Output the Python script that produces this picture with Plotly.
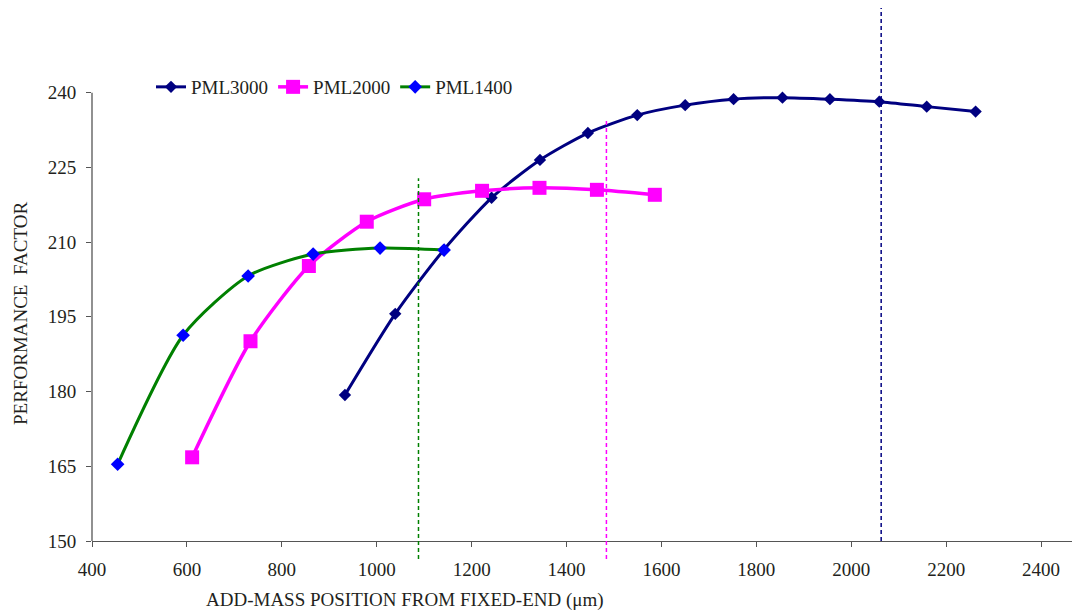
import plotly.graph_objects as go

# ---- data ----
pml3000_x = [933, 1039, 1141, 1242, 1344, 1445, 1549, 1650, 1752, 1855, 1955, 2059, 2159, 2262]
pml3000_y = [179.3, 195.6, 208.4, 218.9, 226.5, 231.9, 235.5, 237.5, 238.7, 239.0, 238.7, 238.2, 237.2, 236.2]

pml2000_x = [611, 734, 857, 979, 1100, 1222, 1343, 1464, 1586]
pml2000_y = [166.8, 190.1, 205.2, 214.1, 218.6, 220.3, 220.9, 220.5, 219.5]

pml1400_x = [454, 592, 729, 866, 1007, 1142]
pml1400_y = [165.4, 191.3, 203.2, 207.6, 208.8, 208.4]

# optimum position markers (x value, top y value, colour)
vline_x = [1088, 1484, 2063]
vline_top = [222.8, 234.9, 257.0]
vline_colors = ["#008000", "#FF00FF", "#000080"]
vline_below = [True, True, False]

x_ticks = [400, 600, 800, 1000, 1200, 1400, 1600, 1800, 2000, 2200, 2400]
y_ticks = [150, 165, 180, 195, 210, 225, 240]

X_RANGE = [400, 2482]
Y_RANGE = [150, 257.0]

FONT = "Times New Roman, Liberation Serif, serif"
TXT = "#231f20"
FS = 19

# page body has an 8px margin, so the figure is drawn 8px smaller
W, H = 1072, 607
ML, MT, MB = 84, 0, 74
PW, PH = W - ML, H - MT - MB

fig = go.Figure()
fig.add_trace(go.Scatter(
    x=pml3000_x, y=pml3000_y, name="PML3000", mode="lines+markers",
    line=dict(color="#000080", width=3, shape="spline", smoothing=0.7),
    marker=dict(symbol="diamond", size=9.5, color="#000080")))
fig.add_trace(go.Scatter(
    x=pml2000_x, y=pml2000_y, name="PML2000", mode="lines+markers",
    line=dict(color="#FF00FF", width=3.5, shape="spline", smoothing=0.7),
    marker=dict(symbol="square", size=14, color="#FF00FF")))
fig.add_trace(go.Scatter(
    x=pml1400_x, y=pml1400_y, name="PML1400", mode="lines+markers",
    line=dict(color="#008000", width=3, shape="spline", smoothing=0.7),
    marker=dict(symbol="diamond", size=10.5, color="#0000FF")))

def ypaper(v):
    return (v - Y_RANGE[0]) / (Y_RANGE[1] - Y_RANGE[0])

shapes = []
for xv, top, col, below in zip(vline_x, vline_top, vline_colors, vline_below):
    shapes.append(dict(type="line", xref="x", yref="paper", x0=xv, x1=xv,
                       y0=-18 / PH if below else 0, y1=ypaper(top),
                       line=dict(color=col, width=1.5, dash="4px,3px")))
# y axis line only up to the top tick
shapes.append(dict(type="line", xref="paper", yref="y", x0=0, x1=0,
                   y0=150, y1=240, line=dict(color="#555555", width=1.3)))
fig.update_layout(shapes=shapes)

annotations = [
    dict(text="ADD-MASS POSITION FROM FIXED-END (μm)", xref="paper", yref="paper",
         x=(405 - 92) / PW, y=-(600 - 541) / PH, xanchor="center", yanchor="middle",
         showarrow=False, font=dict(family=FONT, size=FS, color=TXT)),
    dict(text="PERFORMANCE  FACTOR", xref="paper", yref="paper",
         x=-(92 - 20) / PW, y=(541 - 314) / PH, xanchor="center", yanchor="middle",
         textangle=-90, showarrow=False, font=dict(family=FONT, size=FS, color=TXT)),
]

fig.update_layout(
    width=W, height=H,
    margin=dict(l=ML, r=0, t=MT, b=MB, pad=0),
    paper_bgcolor="white", plot_bgcolor="white",
    font=dict(family=FONT, size=FS, color=TXT),
    showlegend=True,
    annotations=annotations,
    legend=dict(orientation="h", x=(151 - 92) / PW, y=(541 - 87) / PH,
                xanchor="left", yanchor="middle",
                bgcolor="rgba(0,0,0,0)", font=dict(family=FONT, size=FS, color=TXT),
                itemwidth=30, tracegroupgap=0),
    xaxis=dict(range=X_RANGE, tickvals=x_ticks, showgrid=False, zeroline=False,
               automargin=False,
               showline=True, linecolor="#555555", linewidth=1.3,
               ticks="outside", ticklen=5, tickcolor="#555555",
               ticklabelstandoff=6,
               tickfont=dict(family=FONT, size=FS, color=TXT)),
    yaxis=dict(range=Y_RANGE, tickvals=y_ticks, showgrid=False, zeroline=False,
               automargin=False, showline=False,
               ticks="outside", ticklen=5, tickcolor="#555555",
               ticklabelstandoff=6,
               tickfont=dict(family=FONT, size=FS, color=TXT)),
)

fig.write_html("out.html")
